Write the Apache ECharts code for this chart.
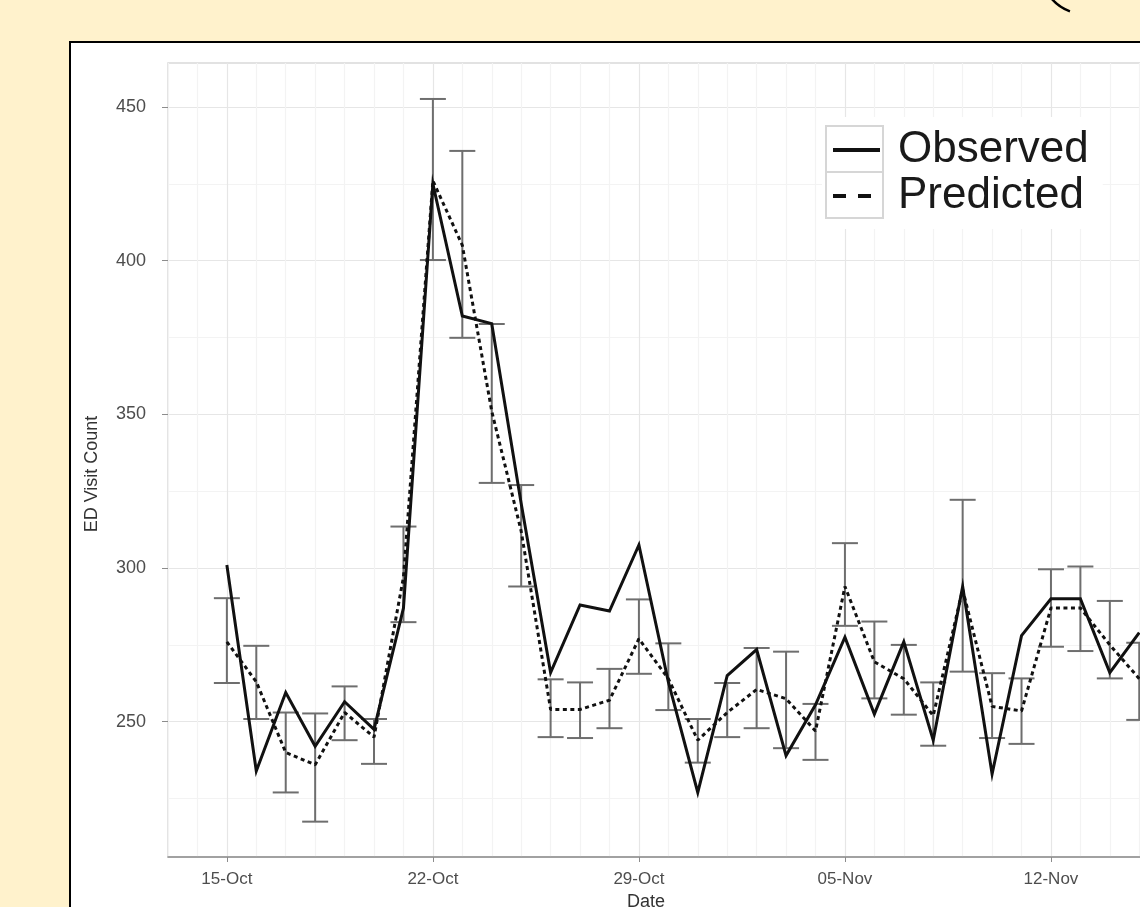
<!DOCTYPE html>
<html>
<head>
<meta charset="utf-8">
<title>ED Visit Count</title>
<script src="https://cdn.jsdelivr.net/npm/echarts@6/dist/echarts.min.js"></script>
<style>
  html, body { margin: 0; padding: 0; overflow: hidden; background: #FFF2CC; }
  #chart { position: absolute; left: 0; top: 0; width: 1500px; height: 907px; }
</style>
</head>
<body>
<div id="chart"></div>
<script>
// axis categories: the x range runs two days either side of the data (ggplot padding)
const categories = [
  '13-Oct', '14-Oct', '15-Oct', '16-Oct', '17-Oct', '18-Oct', '19-Oct', '20-Oct', '21-Oct',
  '22-Oct', '23-Oct', '24-Oct', '25-Oct', '26-Oct', '27-Oct', '28-Oct', '29-Oct', '30-Oct',
  '31-Oct', '01-Nov', '02-Nov', '03-Nov', '04-Nov', '05-Nov', '06-Nov', '07-Nov', '08-Nov',
  '09-Nov', '10-Nov', '11-Nov', '12-Nov', '13-Nov', '14-Nov', '15-Nov', '16-Nov', '17-Nov',
  '18-Nov', '19-Nov', '20-Nov', '21-Nov', '22-Nov', '23-Nov', '24-Nov', '25-Nov', '26-Nov'
]
const tickLabels = ['15-Oct', '22-Oct', '29-Oct', '05-Nov', '12-Nov', '19-Nov', '26-Nov']

// days that have data (the rest is cut off by the picture's right edge)
const dates = [
  '15-Oct', '16-Oct', '17-Oct', '18-Oct', '19-Oct', '20-Oct', '21-Oct', '22-Oct',
  '23-Oct', '24-Oct', '25-Oct', '26-Oct', '27-Oct', '28-Oct', '29-Oct', '30-Oct',
  '31-Oct', '01-Nov', '02-Nov', '03-Nov', '04-Nov', '05-Nov', '06-Nov', '07-Nov',
  '08-Nov', '09-Nov', '10-Nov', '11-Nov', '12-Nov', '13-Nov', '14-Nov', '15-Nov'
]
const observed = [
  301, 234, 259.5, 242, 256.5, 247.5, 287, 425,
  382, 379.5, 321, 266, 288, 286, 307.5, 263,
  227, 265, 273.5, 239, 255.5, 277.5, 252.5, 276,
  244, 294, 233, 278, 290, 290, 266, 279
]
const predicted = [
  276, 263, 240, 236, 253, 245, 297, 426,
  405, 351, 312, 254, 254, 257, 277, 264,
  244, 253, 260.5, 257.5, 247, 294, 269.5, 264,
  252, 293, 255, 253.5, 287, 287, 275, 264
]
const lower = [
  262.6, 250.9, 227, 217.5, 244, 236.3, 282.4, 400.2,
  374.9, 327.7, 294, 245, 244.7, 247.9, 265.6, 253.8,
  236.7, 245, 247.9, 241.4, 237.6, 281.2, 257.6, 252.3,
  242.2, 266.3, 244.7, 242.8, 274.4, 273, 264.1, 250.6
]
const upper = [
  290.2, 274.7, 253, 252.7, 261.5, 250.9, 313.5, 452.6,
  435.7, 379.4, 327, 263.8, 262.8, 267.2, 289.8, 275.5,
  250.9, 262.6, 274, 272.8, 255.8, 308.1, 282.6, 275,
  262.8, 322.2, 265.8, 264.1, 299.6, 300.5, 289.3, 275.7
]
const yLabelValues = [250, 300, 350, 400, 450]
const yGridValues = [225, 250, 275, 300, 325, 350, 375, 400, 425, 450]

const font = '"Liberation Sans", Arial, Helvetica, sans-serif'
const isMajor = (i) => tickLabels.indexOf(categories[i]) !== -1

const chart = echarts.init(document.getElementById('chart'))

chart.setOption({
  backgroundColor: '#FFF2CC',
  animation: false,
  textStyle: { fontFamily: font },
  grid: {
    left: 168, top: 63, right: 37, bottom: 50,
    show: true, borderColor: '#d9d9d9', borderWidth: 1.5,
    containLabel: false
  },
  legend: {
    orient: 'vertical',
    left: 822, top: 117,
    padding: [10, 14, 10, 9],
    backgroundColor: '#fff',
    itemWidth: 47, itemHeight: 46, itemGap: 0,
    itemStyle: { opacity: 0, borderWidth: 0 },
    lineStyle: { width: 4 },
    textStyle: { fontSize: 44, color: '#1a1a1a', lineHeight: 46, padding: [0, 0, 0, 13] },
    data: [
      { name: 'Observed' },
      { name: 'Predicted', lineStyle: { type: [13, 12], width: 4 } }
    ]
  },
  xAxis: {
    type: 'category',
    data: categories,
    boundaryGap: false,
    axisLine: { lineStyle: { color: '#8c8c8c', width: 1.5 } },
    axisTick: { interval: (i) => isMajor(i), length: 5, lineStyle: { color: '#8c8c8c' } },
    axisLabel: { interval: (i) => isMajor(i), fontSize: 17, color: '#4d4d4d', margin: 14 },
    splitLine: {
      show: true, interval: 0,
      lineStyle: { color: ['#f3f3f3', '#f3f3f3', '#e6e6e6', '#f3f3f3', '#f3f3f3', '#f3f3f3', '#f3f3f3'], width: 1.2 }
    }
  },
  yAxis: [
    {
      type: 'value', min: 206, max: 464.3,
      axisLine: { show: false },
      axisTick: { show: false, customValues: yGridValues },
      axisLabel: { customValues: yLabelValues, fontSize: 18, color: '#4d4d4d', margin: 22 },
      splitLine: { show: true, lineStyle: { color: ['#f3f3f3', '#e6e6e6'], width: 1.2 } }
    },
    {
      type: 'value', min: 206, max: 464.3, position: 'left',
      axisLine: { show: false },
      axisTick: { show: true, customValues: yLabelValues, length: 6, lineStyle: { color: '#8c8c8c' } },
      axisLabel: { show: false },
      splitLine: { show: false }
    }
  ],
  graphic: [
    {
      type: 'rect', z: -100, silent: true,
      shape: { x: 70, y: 42, width: 1600, height: 1000 },
      style: { fill: '#fff', stroke: '#000', lineWidth: 2 }
    },
    {
      type: 'arc', silent: true,
      shape: { cx: 1085, cy: -30, r: 44, startAngle: 110 * Math.PI / 180, endAngle: 142 * Math.PI / 180 },
      style: { fill: 'none', stroke: '#000', lineWidth: 2.5 }
    },
    {
      type: 'rect', z: 100, silent: true,
      shape: { x: 826, y: 126, width: 57, height: 46 },
      style: { fill: 'none', stroke: '#d6d6d6', lineWidth: 2 }
    },
    {
      type: 'rect', z: 100, silent: true,
      shape: { x: 826, y: 172, width: 57, height: 46 },
      style: { fill: 'none', stroke: '#d6d6d6', lineWidth: 2 }
    },
    {
      type: 'text', silent: true,
      x: 92, y: 474, rotation: Math.PI / 2,
      style: { text: 'ED Visit Count', fontSize: 18, fontFamily: font, fill: '#333', align: 'center', verticalAlign: 'middle' }
    },
    {
      type: 'text', silent: true,
      x: 646, y: 902,
      style: { text: 'Date', fontSize: 18, fontFamily: font, fill: '#333', align: 'center', verticalAlign: 'middle' }
    }
  ],
  series: [
    {
      name: 'Interval',
      type: 'custom',
      data: dates.map((d, i) => [d, lower[i], upper[i]]),
      renderItem: (params, api) => {
        const lo = api.coord([api.value(0), api.value(1)])
        const hi = api.coord([api.value(0), api.value(2)])
        const hw = 13
        const style = { stroke: '#6e6e6e', lineWidth: 2 }
        return {
          type: 'group',
          children: [
            { type: 'line', shape: { x1: lo[0], y1: lo[1], x2: hi[0], y2: hi[1] }, style },
            { type: 'line', shape: { x1: lo[0] - hw, y1: lo[1], x2: lo[0] + hw, y2: lo[1] }, style },
            { type: 'line', shape: { x1: hi[0] - hw, y1: hi[1], x2: hi[0] + hw, y2: hi[1] }, style }
          ]
        }
      }
    },
    {
      name: 'Observed',
      type: 'line',
      data: dates.map((d, i) => [d, observed[i]]),
      symbol: 'none',
      lineStyle: { color: '#111', width: 3, join: 'miter' },
      itemStyle: { color: '#111' }
    },
    {
      name: 'Predicted',
      type: 'line',
      data: dates.map((d, i) => [d, predicted[i]]),
      symbol: 'none',
      lineStyle: { color: '#111', width: 3, type: [4, 3.5] },
      itemStyle: { color: '#111' }
    }
  ]
})
</script>
</body>
</html>
